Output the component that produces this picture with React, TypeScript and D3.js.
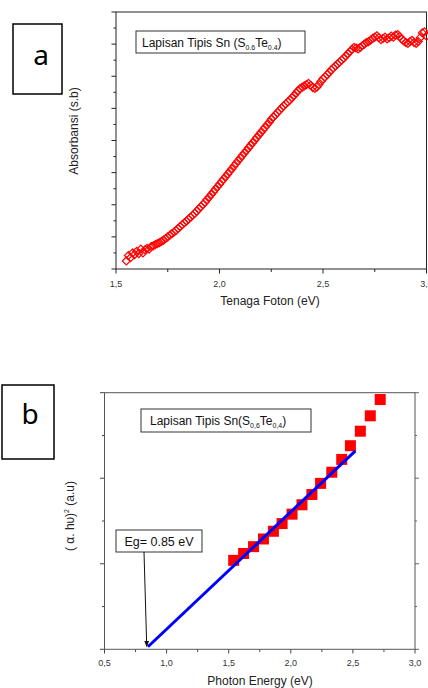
import React from "react";
import { scaleLinear, range, line } from "d3";

// panel a: absorbance vs photon energy
const energyA = [
  1.55, 1.56, 1.57, 1.58, 1.59, 1.6, 1.61, 1.62, 1.63, 1.64, 1.65, 1.66, 1.67, 1.68, 1.69,
  1.7, 1.71, 1.72, 1.73, 1.74, 1.75, 1.76, 1.77, 1.78, 1.79, 1.8, 1.81, 1.82, 1.83, 1.84,
  1.85, 1.86, 1.87, 1.88, 1.89, 1.9, 1.91, 1.92, 1.93, 1.94, 1.95, 1.96, 1.97, 1.98, 1.99,
  2.0, 2.01, 2.02, 2.03, 2.04, 2.05, 2.06, 2.07, 2.08, 2.09, 2.1, 2.11, 2.12, 2.13, 2.14,
  2.15, 2.16, 2.17, 2.18, 2.19, 2.2, 2.21, 2.22, 2.23, 2.24, 2.25, 2.26, 2.27, 2.28, 2.29,
  2.3, 2.31, 2.32, 2.33, 2.34, 2.35, 2.36, 2.37, 2.38, 2.39, 2.4, 2.41, 2.42, 2.43, 2.44,
  2.45, 2.46, 2.47, 2.48, 2.49, 2.5, 2.51, 2.52, 2.53, 2.54, 2.55, 2.56, 2.57, 2.58, 2.59,
  2.6, 2.61, 2.62, 2.63, 2.64, 2.65, 2.66, 2.67, 2.68, 2.69, 2.7, 2.71, 2.72, 2.73, 2.74,
  2.75, 2.76, 2.77, 2.78, 2.79, 2.8, 2.81, 2.82, 2.83, 2.84, 2.85, 2.86, 2.87, 2.88, 2.89,
  2.9, 2.91, 2.92, 2.93, 2.94, 2.95, 2.96, 2.97, 2.98, 2.99, 3.0,
];
const absorbA = [
  0.25, 0.42, 0.35, 0.5, 0.45, 0.55, 0.48, 0.62, 0.5, 0.6, 0.64, 0.62, 0.7, 0.72, 0.76,
  0.79, 0.82, 0.86, 0.9, 0.95, 1.0, 1.05, 1.1, 1.15, 1.2, 1.26, 1.32, 1.38, 1.44, 1.49,
  1.55, 1.61, 1.67, 1.73, 1.8, 1.87, 1.94, 2.01, 2.08, 2.16, 2.24, 2.32, 2.4, 2.48, 2.56,
  2.64, 2.72, 2.8, 2.88, 2.96, 3.04, 3.12, 3.21, 3.29, 3.37, 3.45, 3.53, 3.61, 3.69, 3.77,
  3.85, 3.93, 4.01, 4.09, 4.17, 4.25, 4.33, 4.41, 4.49, 4.57, 4.66, 4.73, 4.8, 4.87, 4.94,
  5.01, 5.08, 5.14, 5.2, 5.26, 5.33, 5.4, 5.48, 5.55, 5.62, 5.66, 5.7, 5.74, 5.78, 5.72,
  5.65, 5.62, 5.66, 5.74, 5.84, 5.92, 5.98, 6.05, 6.12, 6.2, 6.26, 6.32, 6.38, 6.44, 6.5,
  6.56, 6.63, 6.7, 6.77, 6.84, 6.9, 6.88, 6.85, 6.9, 6.95, 7.0, 7.05, 7.08, 7.12, 7.18,
  7.22, 7.26, 7.2, 7.14, 7.18, 7.22, 7.16, 7.2, 7.25, 7.22, 7.28, 7.3, 7.24, 7.16, 7.1,
  7.05, 7.02, 7.08, 7.12, 7.05, 7.02, 7.08, 7.2, 7.35, 7.38, 7.25,
];
const ticksA = ["1,5", "2,0", "2,5", "3,0"];

// panel b: Tauc plot
const energyB = [1.54, 1.62, 1.7, 1.78, 1.86, 1.93, 2.01, 2.09, 2.17, 2.24, 2.33, 2.41, 2.48, 2.56, 2.64, 2.72];
const taucB = [1.04, 1.12, 1.2, 1.29, 1.38, 1.47, 1.58, 1.69, 1.81, 1.94, 2.07, 2.22, 2.38, 2.55, 2.73, 2.92];
const fitB = [
  { e: 0.85, v: 0.03 },
  { e: 2.52, v: 2.32 },
];
const ticksB = ["0,5", "1,0", "1,5", "2,0", "2,5", "3,0"];

const font = "'Liberation Sans', Arial, sans-serif";

const App = () => {
  // panel a scales
  const xA = scaleLinear().domain([1.5, 3.0]).range([116, 426.5]);
  const yA = scaleLinear().domain([0, 8]).range([269, 12]);
  // panel b scales
  const xB = scaleLinear().domain([0.5, 3.0]).range([104.5, 415]);
  const yB = scaleLinear().domain([0, 3]).range([649.3, 392.7]);

  // open square turned 45 degrees, like the Origin marker
  const diamond = "M0,-4L4,0L0,4L-4,0Z";
  const fitLine = line<{ e: number; v: number }>()
    .x((d) => xB(d.e))
    .y((d) => yB(d.v));

  return (
    <div style={{ position: "absolute", left: 0, top: 0 }}>
      <svg width={428} height={688} style={{ display: "block" }}>
        <rect width={428} height={688} fill="#fff" />

        {/* ---------- panel a ---------- */}
        <rect x={13} y={24} width={49} height={70} fill="none" stroke="#000" strokeWidth={1.5} />
        <text x={41} y={65} textAnchor="middle" fontFamily="'Noto Sans', sans-serif" fontSize={28}>
          a
        </text>

        {range(0, 8.01, 0.5).map((v, i) => (
          <line
            key={"ya" + i}
            x1={116}
            x2={i % 2 === 0 ? 111.5 : 113.5}
            y1={yA(v)}
            y2={yA(v)}
            stroke="#222"
          />
        ))}
        {range(1.5, 3.01, 0.25).map((v, i) => (
          <line
            key={"xa" + i}
            x1={xA(v)}
            x2={xA(v)}
            y1={269}
            y2={i % 2 === 0 ? 273.5 : 272}
            stroke="#222"
          />
        ))}
        <rect x={116} y={12} width={310.5} height={257} fill="none" stroke="#222" strokeWidth={1} />
        {ticksA.map((t, i) => (
          <text key={t} x={xA(1.5 + i * 0.5)} y={287} textAnchor="middle" fontFamily={font} fontSize={9} fill="#333">
            {t}
          </text>
        ))}
        <text x={270} y={305} textAnchor="middle" fontFamily={font} fontSize={12} fill="#222">
          Tenaga Foton (eV)
        </text>
        <text
          transform="translate(78,131) rotate(-90)"
          textAnchor="middle"
          fontFamily={font}
          fontSize={12}
          fill="#222"
        >
          Absorbansi (s.b)
        </text>

        <rect x={136} y={31} width={169} height={22} fill="#fff" stroke="#333" />
        <text x={142} y={47} fontFamily={font} fontSize={12} fill="#111">
          Lapisan Tipis Sn (S
          <tspan fontSize={7} dy={3}>0.6</tspan>
          <tspan dy={-3}>Te</tspan>
          <tspan fontSize={7} dy={3}>0.4</tspan>
          <tspan dy={-3}>)</tspan>
        </text>

        {energyA.map((e, i) => (
          <path
            key={"pa" + i}
            d={diamond}
            transform={`translate(${xA(e)},${yA(absorbA[i])})`}
            fill="none"
            stroke="#ff0000"
            strokeWidth={1.2}
          />
        ))}

        {/* ---------- panel b ---------- */}
        <rect x={2} y={385} width={52} height={74} fill="none" stroke="#000" strokeWidth={1.5} />
        <text x={30} y={424} textAnchor="middle" fontFamily="'Noto Sans', sans-serif" fontSize={28}>
          b
        </text>

        {range(0, 3.01, 0.5).map((v, i) => (
          <g key={"yb" + i}>
            <line x1={104.5} x2={i % 2 === 0 ? 100 : 102} y1={yB(v)} y2={yB(v)} stroke="#444" />
            <line x1={415} x2={i % 2 === 0 ? 419 : 417} y1={yB(v)} y2={yB(v)} stroke="#666" />
          </g>
        ))}
        {range(0.5, 3.01, 0.25).map((v, i) => (
          <line
            key={"xb" + i}
            x1={xB(v)}
            x2={xB(v)}
            y1={649.3}
            y2={i % 2 === 0 ? 653.5 : 652}
            stroke="#444"
          />
        ))}
        <rect x={104.5} y={392.7} width={310.5} height={256.6} fill="none" stroke="#555" strokeWidth={1} />
        {ticksB.map((t, i) => (
          <text key={t} x={xB(0.5 + i * 0.5)} y={666} textAnchor="middle" fontFamily={font} fontSize={9} fill="#333">
            {t}
          </text>
        ))}
        <text x={260} y={685} textAnchor="middle" fontFamily={font} fontSize={12} fill="#222">
          Photon Energy (eV)
        </text>
        <text
          transform="translate(74,516) rotate(-90)"
          textAnchor="middle"
          fontFamily={font}
          fontSize={12}
          fill="#222"
        >
          ( α. hυ)
          <tspan fontSize={7} dy={-5}>2</tspan>
          <tspan dy={5}> (a.u)</tspan>
        </text>

        <rect x={141} y={409} width={170} height={23} fill="#fff" stroke="#333" />
        <text x={150} y={425} fontFamily={font} fontSize={12} fill="#111">
          Lapisan Tipis Sn(S
          <tspan fontSize={7} dy={3}>0,6</tspan>
          <tspan dy={-3}>Te</tspan>
          <tspan fontSize={7} dy={3}>0,4</tspan>
          <tspan dy={-3}>)</tspan>
        </text>

        {energyB.map((e, i) => (
          <rect
            key={"pb" + i}
            x={xB(e) - 5.5}
            y={yB(taucB[i]) - 5.5}
            width={11}
            height={11}
            fill="#ff0000"
          />
        ))}
        <path d={fitLine(fitB) || ""} fill="none" stroke="#0000ff" strokeWidth={3} />

        <rect x={116} y={530} width={86} height={22} fill="#fff" stroke="#333" />
        <text x={159} y={546} textAnchor="middle" fontFamily={font} fontSize={12.5} fill="#111">
          Eg= 0.85 eV
        </text>
        <line x1={144} y1={552} x2={146.6} y2={642} stroke="#111" strokeWidth={1} />
        <path d="M144.3,641 L149,641 L146.8,647.5 Z" fill="#111" />
      </svg>
    </div>
  );
};

export default App;
